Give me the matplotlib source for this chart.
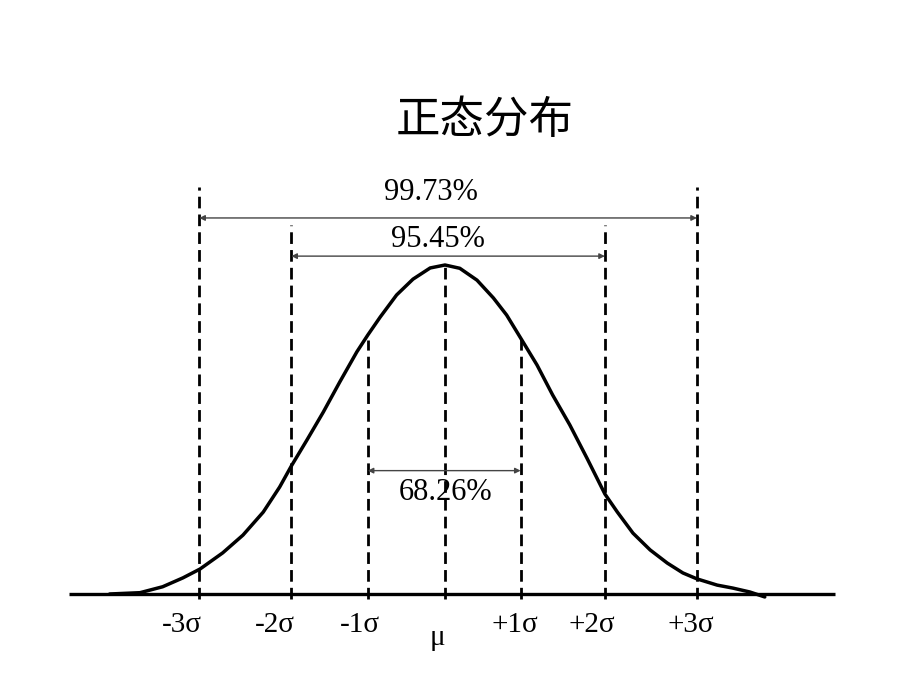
import matplotlib
matplotlib.use("Agg")
import matplotlib.pyplot as plt

# curve: x in sigma units, y relative to the peak height
curve_x = [-4.30, -3.91, -3.62, -3.36, -3.14, -2.85, -2.59, -2.33, -2.12, -1.97,
           -1.77, -1.56, -1.35, -1.13, -0.99, -0.83, -0.62, -0.41, -0.19, 0.00,
           0.19, 0.41, 0.62, 0.79, 0.97, 1.18, 1.38, 1.60, 1.82, 2.05,
           2.21, 2.41, 2.63, 2.85, 3.05, 3.23, 3.49, 3.69, 3.91, 4.10]
curve_y = [0.000, 0.004, 0.022, 0.049, 0.076, 0.125, 0.179, 0.249, 0.325, 0.389,
           0.468, 0.553, 0.644, 0.736, 0.787, 0.842, 0.909, 0.957, 0.991, 1.000,
           0.990, 0.954, 0.900, 0.848, 0.778, 0.696, 0.605, 0.514, 0.413, 0.304,
           0.249, 0.185, 0.134, 0.094, 0.064, 0.046, 0.027, 0.018, 0.006, -0.009]

# dashed sigma markers (as drawn) and how high each one reaches
sigma_x = [-3.15, -1.97, -0.99, 0.0, 0.97, 2.05, 3.23]
sigma_top = [1.237, 1.122, 0.772, 1.0, 0.793, 1.122, 1.237]

tick_labels = ["-3σ", "-2σ", "-1σ", "μ", "+1σ", "+2σ", "+3σ"]
label_x = [-3.37, -2.18, -1.09, -0.10, 0.90, 1.88, 3.15]

# interval arrows: (left, right, arrow height, label, label x, label y)
spans = [
    (-3.15, 3.23, 1.143, "99.73%", -0.186, 1.219),
    (-1.97, 2.05, 1.027, "95.45%", -0.096, 1.079),
    (-0.99, 0.97, 0.375, "68.26%", 0.006, 0.307),
]

title = "正态分布"

fig = plt.figure(figsize=(9.2, 6.9), dpi=100)
ax = fig.add_axes([0, 0, 1, 1])
ax.set_xlim(-5.705, 6.090)
ax.set_ylim(-0.2918, 1.8055)
ax.axis("off")

serif = ["Liberation Serif", "DejaVu Serif"]

# baseline
ax.plot([-4.82, 5.0], [0, 0], color="black", lw=2.4, solid_capstyle="butt")

# dashed sigma lines
for x, top in zip(sigma_x, sigma_top):
    ax.plot([x, x], [-0.015, top], color="black", lw=2.0,
            linestyle=(0, (4.2, 2.2)))

# the curve
ax.plot(curve_x, curve_y, color="black", lw=2.5, solid_joinstyle="round",
        solid_capstyle="round")

# interval arrows and percentages
for left, right, h, txt, tx, ty in spans:
    ax.annotate("", xy=(left, h), xytext=(right, h),
                arrowprops=dict(arrowstyle="<|-|>", color="#444444", lw=1.0,
                                mutation_scale=8, shrinkA=0, shrinkB=0))
    ax.text(tx, ty, txt, ha="center", va="center", fontsize=22,
            family=serif, color="black")

# tick labels under the baseline
for x, lab in zip(label_x, tick_labels):
    y = -0.134 if lab == "μ" else -0.093
    ax.text(x, y, lab, ha="center", va="center", fontsize=21,
            family=serif, color="black")

ax.text(0.513, 1.44, title, ha="center", va="center", fontsize=32,
        family=["Noto Sans CJK SC", "DejaVu Sans"], color="black")

fig.savefig("out.png", dpi=100)
